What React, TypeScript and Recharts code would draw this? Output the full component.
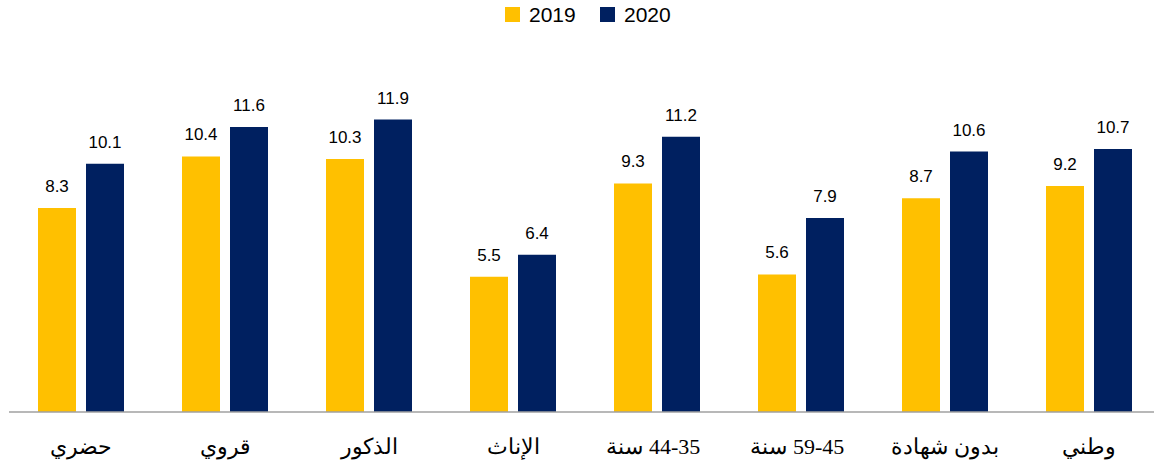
import { Bar, BarChart, LabelList, XAxis, YAxis } from "recharts";

const SANA = "\u0633\u0646\u0629";
// age bands (years): drawn as "سنة" on the left and "high-low" on the right, like the original
const ageLow = [35, 45];
const ageHigh = [44, 59];
const categories = ["حضري", "قروي", "الذكور", "الإناث", "age0", "age1", "بدون شهادة", "وطني"];
const values2019 = [8.3, 10.4, 10.3, 5.5, 9.3, 5.6, 8.7, 9.2];
const values2020 = [10.1, 11.6, 11.9, 6.4, 11.2, 7.9, 10.6, 10.7];

const YELLOW = "#FFC000";
const NAVY = "#002060";

const data = categories.map((name, i) => ({
  name,
  y2019: values2019[i],
  y2020: values2020[i],
}));

function LegendItem({ color, label, left }: { color: string; label: string; left: number }) {
  return (
    <div style={{ position: "absolute", left, top: 0, display: "flex", alignItems: "center", height: 29 }}>
      <span style={{ width: 15, height: 15, background: color, display: "inline-block" }} />
      <span style={{ marginLeft: 9, fontSize: 21, color: "#000", fontFamily: "'Liberation Sans', Arial, sans-serif" }}>
        {label}
      </span>
    </div>
  );
}

function CategoryTick({ x, y, payload }: any) {
  const font = {
    fill: "#000",
    fontSize: 22,
    fontFamily: "'Liberation Serif', 'Times New Roman', 'DejaVu Serif', serif",
  };
  const v = String(payload.value);
  if (!v.startsWith("age")) {
    return (
      <text x={x} y={y} dy={40} textAnchor="middle" {...font}>
        {v}
      </text>
    );
  }
  const k = Number(v.slice(3));
  const range = `${ageHigh[k]}-${ageLow[k]}`;
  return (
    <g>
      <text x={x - 14} y={y} dy={40} textAnchor="end" direction="ltr" {...font}>
        {SANA}
      </text>
      <text x={x - 8} y={y} dy={40} textAnchor="start" direction="ltr" {...font}>
        {range}
      </text>
    </g>
  );
}

export default function App() {
  return (
    <div style={{ position: "absolute", left: 0, top: 0, width: 1154, height: 463, overflow: "hidden", background: "#fff" }}>
      <LegendItem color={YELLOW} label="2019" left={505} />
      <LegendItem color={NAVY} label="2020" left={600} />
      <BarChart
        width={1170}
        height={463}
        data={data}
        margin={{ top: 68, right: 9, bottom: 0, left: 9 }}
        barCategoryGap={29}
        barGap={10}
      >
        <XAxis
          dataKey="name"
          height={51}
          tickLine={false}
          tickSize={0}
          axisLine={{ stroke: "#a0a0a0", strokeWidth: 1.5 }}
          tick={<CategoryTick />}
          interval={0}
        />
        <YAxis hide domain={[0, 14]} />
        <Bar dataKey="y2019" fill={YELLOW} barSize={38} isAnimationActive={false}>
          <LabelList
            dataKey="y2019"
            position="top"
            offset={16}
            fill="#000"
            fontSize={17}
            fontFamily="'Liberation Sans', Arial, sans-serif"
          />
        </Bar>
        <Bar dataKey="y2020" fill={NAVY} barSize={38} isAnimationActive={false}>
          <LabelList
            dataKey="y2020"
            position="top"
            offset={16}
            fill="#000"
            fontSize={17}
            fontFamily="'Liberation Sans', Arial, sans-serif"
          />
        </Bar>
      </BarChart>
    </div>
  );
}
